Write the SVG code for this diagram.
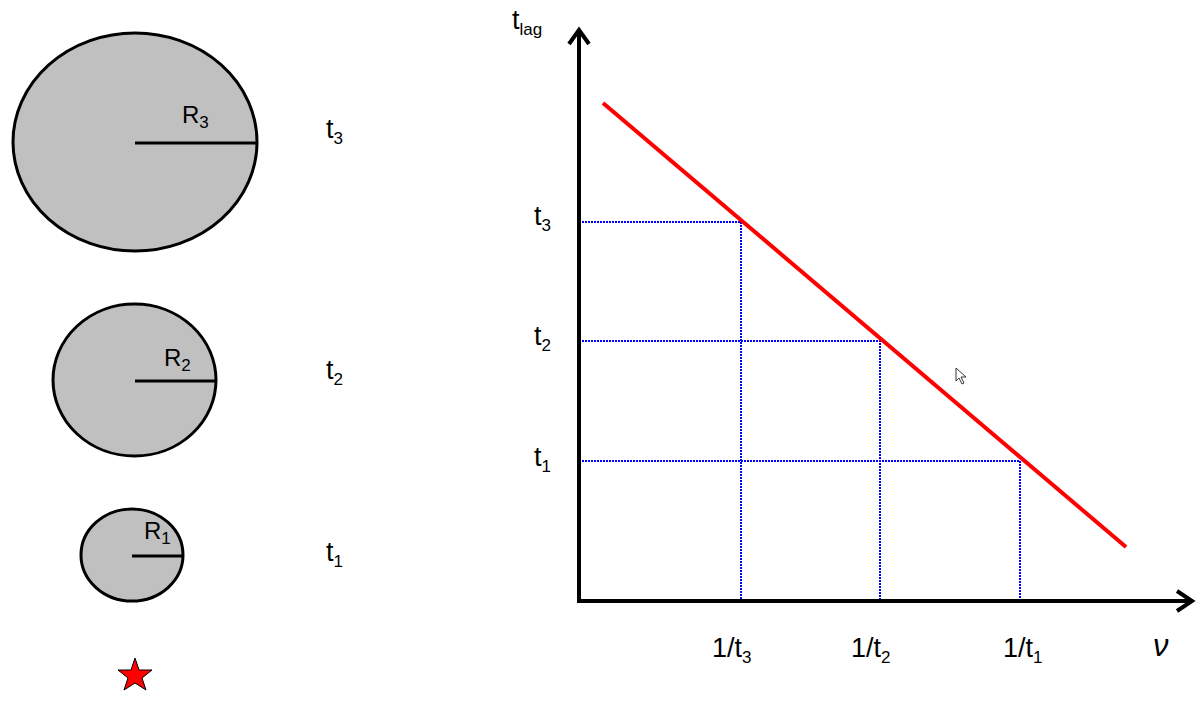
<svg xmlns="http://www.w3.org/2000/svg" width="1200" height="703" viewBox="0 0 1200 703">
<style>
text{font-family:"Liberation Sans",Arial,sans-serif;fill:#000}
.lbl{font-size:27px}
.rl{font-size:24px}
.sub{font-size:17px}
.circ{fill:#c0c0c0;stroke:#000;stroke-width:3}
.rad{stroke:#000;stroke-width:3}
.axis{stroke:#000;stroke-width:4;fill:none}
.grid{stroke:#0000ff;stroke-width:2;stroke-dasharray:2 1;fill:none}
</style>
<rect width="1200" height="703" fill="#fff"/>
<g id="shell3">
<ellipse class="circ" cx="135" cy="142" rx="122" ry="109"/>
<line class="rad" x1="135" y1="143" x2="257" y2="143"/>
<text class="rl" x="182" y="123">R<tspan class="sub" dy="5">3</tspan></text>
</g>
<g id="shell2">
<ellipse class="circ" cx="134.5" cy="380" rx="81.5" ry="76"/>
<line class="rad" x1="135" y1="381" x2="216" y2="381"/>
<text class="rl" x="164" y="366">R<tspan class="sub" dy="5">2</tspan></text>
</g>
<g id="shell1">
<ellipse class="circ" cx="132" cy="555" rx="51" ry="46"/>
<line class="rad" x1="132" y1="556" x2="183" y2="556"/>
<text class="rl" x="144" y="539">R<tspan class="sub" dy="5">1</tspan></text>
</g>
<g id="star">
<polygon points="135,658 139,670 152,670 142,678 146,690 135,683 124,690 128,678 118,670 131,670" fill="#ff0000" stroke="#000" stroke-width="1"/>
</g>
<g id="time-labels">
<text class="lbl" x="326" y="138">t<tspan class="sub" dy="6">3</tspan></text>
<text class="lbl" x="326" y="379">t<tspan class="sub" dy="6">2</tspan></text>
<text class="lbl" x="326" y="561">t<tspan class="sub" dy="6">1</tspan></text>
</g>
<g id="connectors">
<polyline class="grid" points="579,222 741,222 741,601"/>
<polyline class="grid" points="579,341 880,341 880,601"/>
<polyline class="grid" points="579,461 1020,461 1020,601"/>
<line x1="603" y1="103" x2="1126" y2="547" stroke="#ff0000" stroke-width="4"/>
<line class="axis" x1="579" y1="601" x2="579" y2="32"/>
<polyline class="axis" points="569,44 579,30 589,44"/>
<line class="axis" x1="577" y1="601" x2="1190" y2="601"/>
<polyline class="axis" points="1177,591 1192,601 1177,611"/>
</g>
<g id="axis-labels">
<text class="lbl" x="512" y="29">t<tspan class="sub" dy="6">lag</tspan></text>
<text class="lbl" x="534" y="225">t<tspan class="sub" dy="6">3</tspan></text>
<text class="lbl" x="534" y="345">t<tspan class="sub" dy="6">2</tspan></text>
<text class="lbl" x="534" y="466">t<tspan class="sub" dy="6">1</tspan></text>
<text class="lbl" x="712" y="657">1/t<tspan class="sub" dy="6">3</tspan></text>
<text class="lbl" x="851" y="657">1/t<tspan class="sub" dy="6">2</tspan></text>
<text class="lbl" x="1003" y="657">1/t<tspan class="sub" dy="6">1</tspan></text>
<text x="1153" y="656" font-size="31" font-style="italic" font-family="Liberation Serif,serif">ν</text>
</g>
<g id="cursor">
<path d="M956,368 L956,381 L959,378 L962,384 L964,383 L961,377 L966,377 Z" fill="#fff" stroke="#333" stroke-width="1"/>
</g>
</svg>
